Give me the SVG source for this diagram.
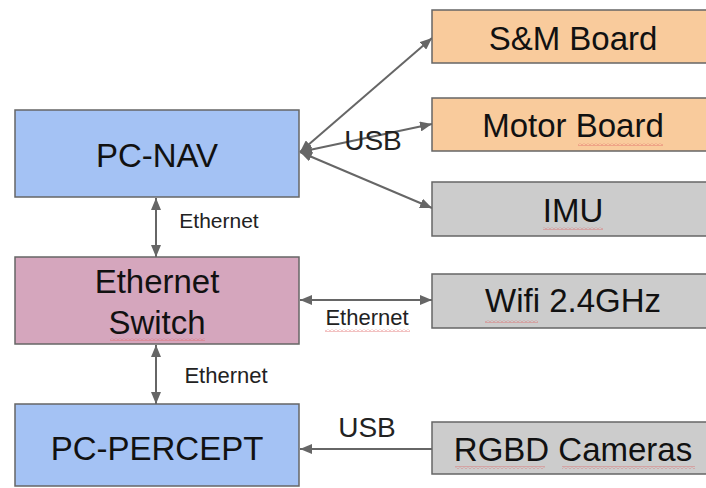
<svg xmlns="http://www.w3.org/2000/svg" width="706" height="488" viewBox="0 0 706 488">
<style>
.box{stroke:#666;stroke-width:1.5}
.blue{fill:#a4c2f4}.orange{fill:#f9cb9c}.gray{fill:#cccccc}.pink{fill:#d5a6bd}
.t{font-family:"Liberation Sans",Arial,sans-serif;font-size:33px;fill:#111;text-anchor:middle}
.s{font-family:"Liberation Sans",Arial,sans-serif;fill:#222;text-anchor:middle}
.c{stroke:#666;stroke-width:2;fill:none}
.sq{fill:url(#wave)}
</style>
<defs>
<marker id="ah" viewBox="0 0 12 10" refX="12" refY="5" markerWidth="12" markerHeight="10" markerUnits="userSpaceOnUse" orient="auto-start-reverse">
<path d="M0,0 L12,5 L0,10 Z" fill="#666"/>
</marker>
<pattern id="wave" width="4" height="3" patternUnits="userSpaceOnUse">
<path d="M0,2.5 L2,0.5 L4,2.5" fill="none" stroke="#e06666" stroke-width="0.8"/>
</pattern>
</defs>

<g id="connectors">
<line class="c" x1="300" y1="152" x2="432" y2="38" marker-start="url(#ah)" marker-end="url(#ah)"/>
<line class="c" x1="300" y1="152" x2="432" y2="124" marker-start="url(#ah)" marker-end="url(#ah)"/>
<line class="c" x1="300" y1="152" x2="432" y2="208" marker-start="url(#ah)" marker-end="url(#ah)"/>
<text class="s" x="373" y="150" font-size="28">USB</text>
<line class="c" x1="156" y1="198" x2="156" y2="257" marker-start="url(#ah)" marker-end="url(#ah)"/>
<text class="s" x="219" y="228" font-size="21">Ethernet</text>
<line class="c" x1="300" y1="300" x2="432" y2="300" marker-start="url(#ah)" marker-end="url(#ah)"/>
<text class="s" x="367" y="325" font-size="22">Ethernet</text>
<rect class="sq" x="325" y="329" width="85" height="3"/>
<line class="c" x1="156" y1="345" x2="156" y2="404" marker-start="url(#ah)" marker-end="url(#ah)"/>
<text class="s" x="226" y="383" font-size="22">Ethernet</text>
<line class="c" x1="432" y1="449" x2="300" y2="449" marker-end="url(#ah)"/>
<text class="s" x="367" y="437" font-size="28">USB</text>
</g>

<g id="pc-nav">
<rect class="box blue" x="15" y="110" width="284" height="87"/>
<text class="t" x="157" y="167">PC-NAV</text>
</g>
<g id="ethernet-switch">
<rect class="box pink" x="15" y="257" width="284" height="87"/>
<text class="t" x="157" y="293">Ethernet</text>
<text class="t" x="157" y="334">Switch</text>
<rect class="sq" x="110" y="338" width="95" height="3"/>
</g>
<g id="pc-percept">
<rect class="box blue" x="15" y="404" width="284" height="82"/>
<text class="t" x="157" y="460">PC-PERCEPT</text>
</g>
<g id="sm-board">
<rect class="box orange" x="432" y="10" width="285" height="53"/>
<text class="t" x="573" y="50">S&amp;M Board</text>
</g>
<g id="motor-board">
<rect class="box orange" x="432" y="98" width="285" height="53"/>
<text class="t" x="573" y="137">Motor Board</text>
<rect class="sq" x="578" y="143" width="85" height="3"/>
</g>
<g id="imu">
<rect class="box gray" x="432" y="182" width="285" height="54"/>
<text class="t" x="573" y="222">IMU</text>
<rect class="sq" x="543" y="227" width="60" height="3"/>
</g>
<g id="wifi">
<rect class="box gray" x="432" y="274" width="285" height="54"/>
<text class="t" x="573" y="312">Wifi 2.4GHz</text>
<rect class="sq" x="485" y="320" width="53" height="3"/>
</g>
<g id="rgbd-cameras">
<rect class="box gray" x="432" y="422" width="285" height="52"/>
<text class="t" x="573" y="461">RGBD Cameras</text>
<rect class="sq" x="455" y="466" width="90" height="3"/>
<rect class="sq" x="562" y="466" width="133" height="3"/>
</g>
</svg>
